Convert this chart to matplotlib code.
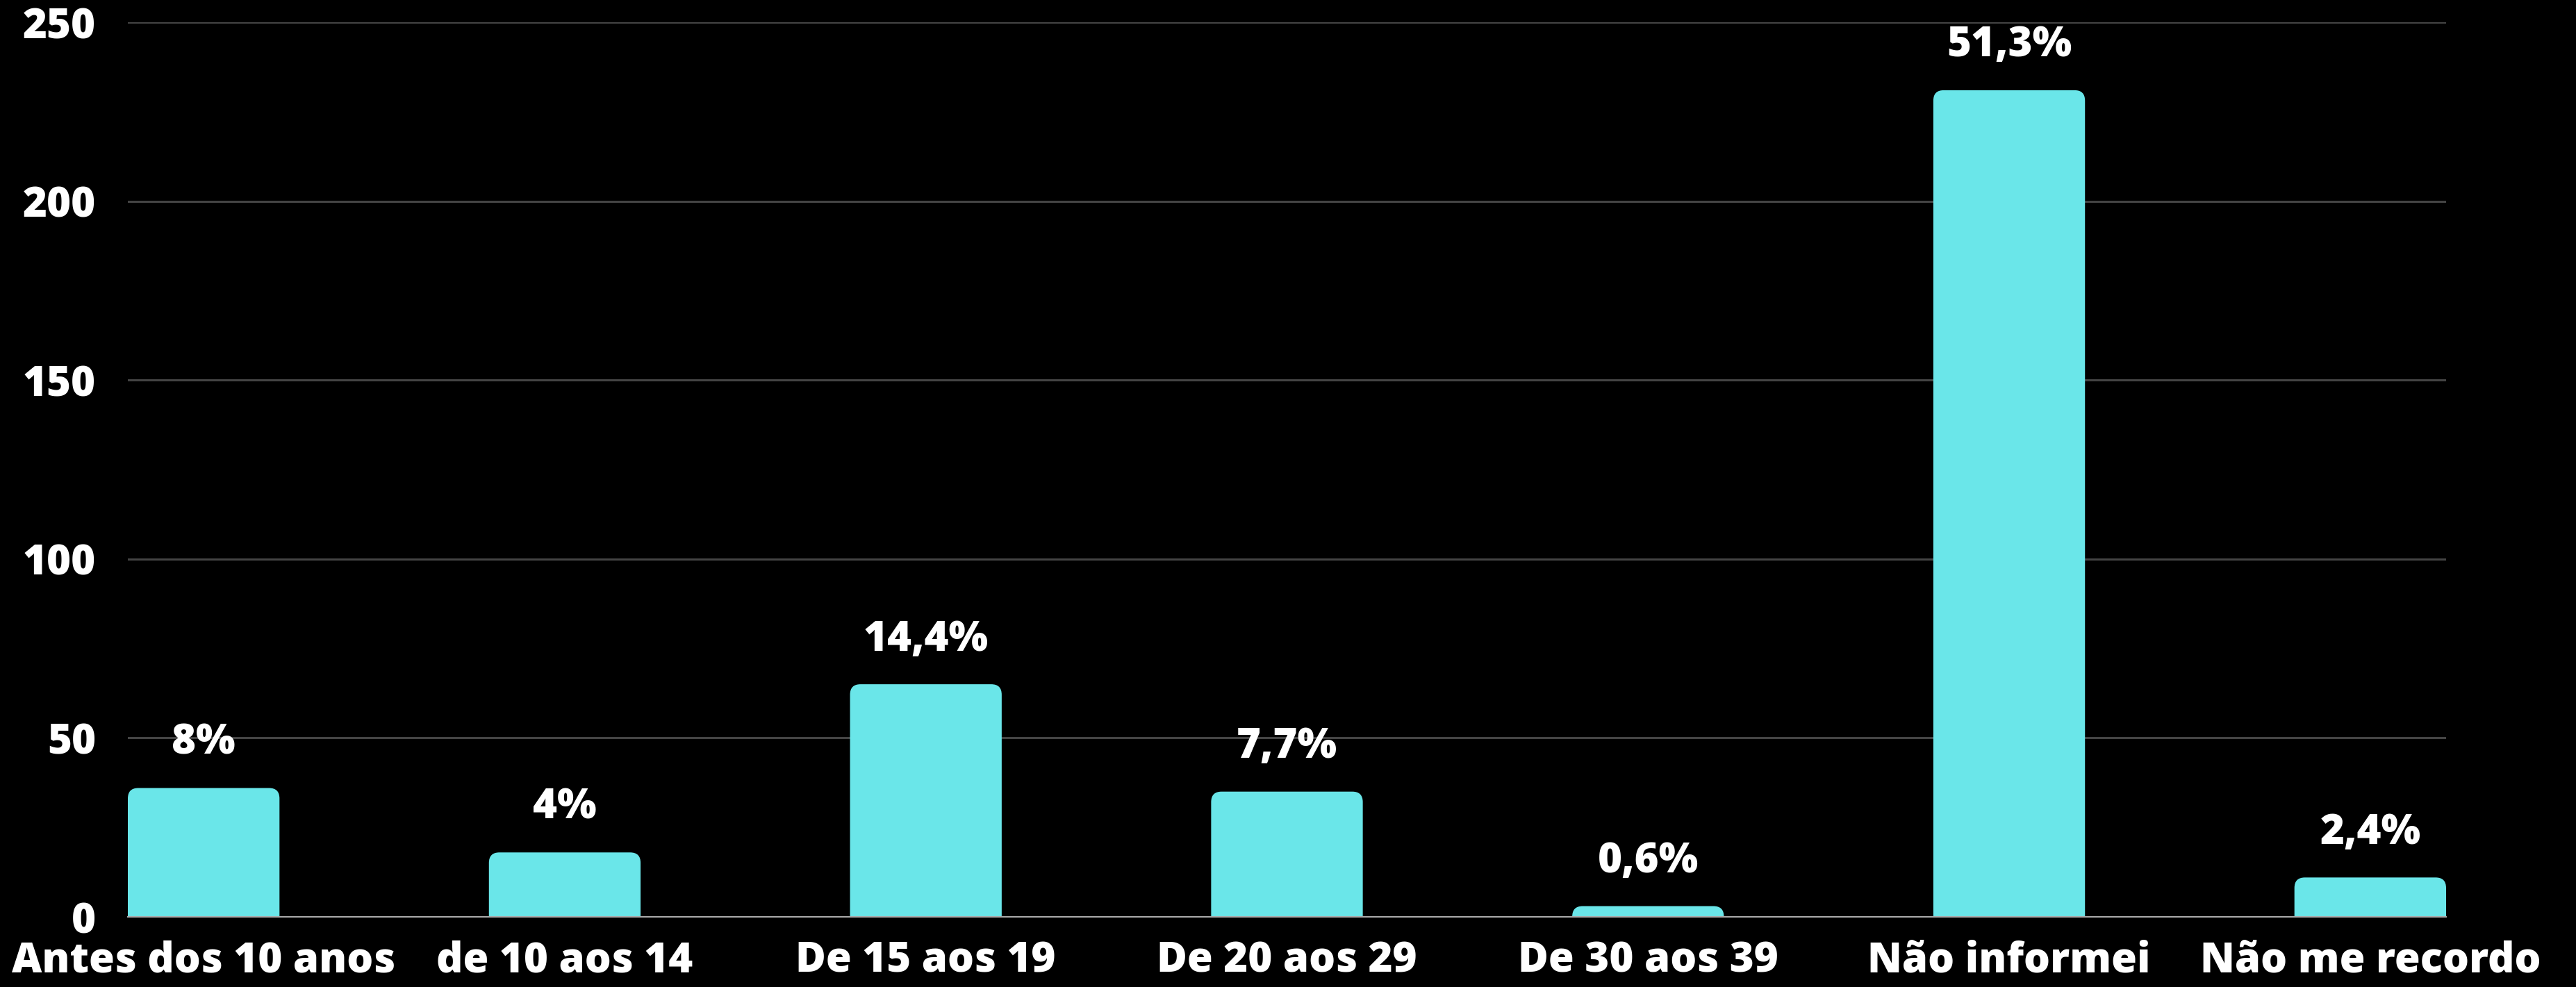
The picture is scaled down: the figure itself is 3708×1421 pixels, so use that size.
import matplotlib
matplotlib.use("Agg")
import matplotlib.pyplot as plt
from matplotlib.patches import FancyBboxPatch

categories = ["Antes dos 10 anos", "de 10 aos 14", "De 15 aos 19", "De 20 aos 29",
              "De 30 aos 39", "Não informei", "Não me recordo"]
values = [36, 18, 65, 35, 3, 231, 11]
pct_labels = ["8%", "4%", "14,4%", "7,7%", "0,6%", "51,3%", "2,4%"]
y_ticks = [0, 50, 100, 150, 200, 250]

plt.rcParams['font.family'] = ['Open Sans', 'DejaVu Sans']

W, H, DPI = 3708, 1421, 100
FS = 43
WEIGHT = 800
fig = plt.figure(figsize=(W / DPI, H / DPI), dpi=DPI, facecolor="black")
ax = fig.add_axes([184 / W, 1 - 1320 / H, (3521 - 184) / W, (1320 - 32) / H])
ax.set_facecolor("black")

bar_w = 0.42
bar_color = "#6ae6e9"
x = list(range(len(categories)))
bars = ax.bar(x, values, width=bar_w, color=bar_color, zorder=3)

ax.set_xlim(-bar_w / 2, len(categories) - 1 + bar_w / 2)
ax.set_ylim(0, 250)

# replace bars by rounded-top versions
fig.canvas.draw()
px_per_x = ax.transData.transform((1, 0))[0] - ax.transData.transform((0, 0))[0]
px_per_y = ax.transData.transform((0, 1))[1] - ax.transData.transform((0, 0))[1]
radius_px = 15
r_x = radius_px / px_per_x
aspect = px_per_x / px_per_y
ext = radius_px / px_per_y
for b in bars:
    b.set_visible(False)
    bx, bw, bh = b.get_x(), b.get_width(), b.get_height()
    p = FancyBboxPatch((bx, -ext), bw, bh + ext,
                       boxstyle=f"round,pad=0,rounding_size={r_x}",
                       mutation_aspect=aspect, facecolor=bar_color,
                       edgecolor="none", zorder=3, clip_on=True)
    ax.add_patch(p)

ax.set_yticks(y_ticks)
ax.yaxis.grid(True, color="#444444", linewidth=2.2, zorder=0)
ax.set_axisbelow(True)
ax.set_xticks(x)
ax.set_xticklabels(categories)
ax.tick_params(axis="both", length=0, colors="white", labelsize=FS)
ax.tick_params(axis="y", pad=33)
ax.tick_params(axis="x", pad=24)
for lbl in ax.get_xticklabels() + ax.get_yticklabels():
    lbl.set_fontweight(WEIGHT)
    lbl.set_color("white")

for s in ["top", "right", "left"]:
    ax.spines[s].set_visible(False)
ax.spines["bottom"].set_color("#aaaaaa")
ax.spines["bottom"].set_linewidth(1.5)
ax.spines["bottom"].set_zorder(4)

for xi, v, t in zip(x, values, pct_labels):
    ax.annotate(t, (xi, v), xytext=(0, 35), textcoords="offset points",
                ha="center", va="baseline", color="white", fontsize=FS,
                fontweight=WEIGHT, zorder=5, annotation_clip=False)

fig.savefig("out.png", dpi=DPI, facecolor="black")
